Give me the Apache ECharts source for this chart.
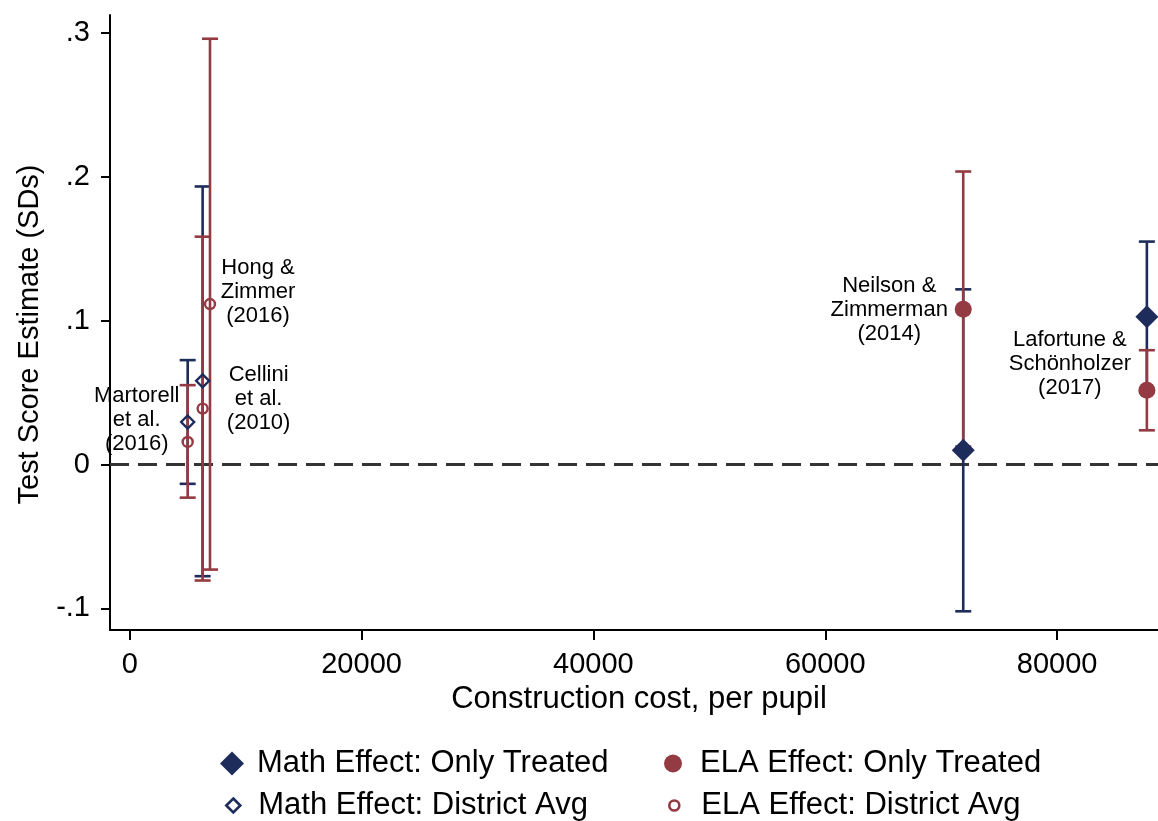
<!DOCTYPE html>
<html>
<head>
<meta charset="utf-8">
<script src="https://cdn.jsdelivr.net/npm/echarts@6/dist/echarts.min.js"></script>
<style>html,body{margin:0;padding:0;background:#fff}#c{width:1158px;height:821px}</style>
</head>
<body>
<div id="c"></div>
<script>
// ---------- data ----------
const xTicks = [0, 20000, 40000, 60000, 80000];
const yTicks = [-0.1, 0, 0.1, 0.2, 0.3];

// Math effect: district average (hollow diamonds) — Martorell, Cellini
const mathAvgCost = [5000, 6290];
const mathAvgEst  = [0.0296, 0.0582];
const mathAvgLo   = [-0.0134, -0.0776];
const mathAvgHi   = [0.0726, 0.1933];

// ELA effect: district average (hollow circles) — Martorell, Cellini, Hong & Zimmer
const elaAvgCost = [5000, 6290, 6926];
const elaAvgEst  = [0.0157, 0.0389, 0.1116];
const elaAvgLo   = [-0.023, -0.0806, -0.073];
const elaAvgHi   = [0.0552, 0.1584, 0.296];

// Math effect: only treated (filled diamonds) — Neilson & Zimmerman, Lafortune & Schönholzer
const mathOnlyCost = [71900, 87740];
const mathOnlyEst  = [0.0099, 0.1027];
const mathOnlyLo   = [-0.102, 0.0504];
const mathOnlyHi   = [0.1218, 0.155];

// ELA effect: only treated (filled circles)
const elaOnlyCost = [71900, 87740];
const elaOnlyEst  = [0.1079, 0.0517];
const elaOnlyLo   = [0.0125, 0.0238];
const elaOnlyHi   = [0.2037, 0.0795];

// study annotations
const studyLabels = {
  martorell: 'Martorell\net al.\n(2016)',
  cellini: 'Cellini\net al.\n(2010)',
  hong: 'Hong &\nZimmer\n(2016)',
  neilson: 'Neilson &\nZimmerman\n(2014)',
  lafortune: 'Lafortune &\nSchönholzer\n(2017)'
};

const seriesNames = ['Math Effect: Only Treated', 'ELA Effect: Only Treated', 'Math Effect: District Avg', 'ELA Effect: District Avg'];

// ---------- styling ----------
const NAVY = '#1d2c5b';
const MAROON = '#933a42';
const FONT = '"Liberation Sans", Arial, Helvetica, sans-serif';

function zip(a, b, c) { return a.map((v, i) => c ? [v, b[i], c[i]] : [v, b[i]]); }

function errorBar(color) {
  return function (params, api) {
    const x = api.value(0), lo = api.value(1), hi = api.value(2);
    const top = api.coord([x, hi]);
    const bot = api.coord([x, lo]);
    const cap = 8;
    const style = { stroke: color, lineWidth: 2.6, fill: null };
    return {
      type: 'group',
      children: [
        { type: 'line', shape: { x1: top[0], y1: top[1], x2: bot[0], y2: bot[1] }, style: style },
        { type: 'line', shape: { x1: top[0] - cap, y1: top[1], x2: top[0] + cap, y2: top[1] }, style: style },
        { type: 'line', shape: { x1: bot[0] - cap, y1: bot[1], x2: bot[0] + cap, y2: bot[1] }, style: style }
      ]
    };
  };
}

function annot(text, dx, dy) {
  return {
    show: true, position: 'inside', formatter: text, offset: [dx, dy],
    align: 'center', verticalAlign: 'middle',
    fontSize: 22, lineHeight: 24, color: '#000', fontFamily: FONT
  };
}

function withLabels(points, labelMap) {
  return points.map((p, i) => labelMap[i] ? { value: p, label: labelMap[i] } : { value: p });
}

const mathAvgPts = withLabels(zip(mathAvgCost, mathAvgEst), { 0: annot(studyLabels.martorell, -51, -2) });
const elaAvgPts = withLabels(zip(elaAvgCost, elaAvgEst), { 1: annot(studyLabels.cellini, 56, -10), 2: annot(studyLabels.hong, 48, -12) });
const mathOnlyPts = withLabels(zip(mathOnlyCost, mathOnlyEst), {});
const elaOnlyPts = withLabels(zip(elaOnlyCost, elaOnlyEst), { 0: annot(studyLabels.neilson, -74, 1), 1: annot(studyLabels.lafortune, -77, -26) });

// legend icons (extra move points give the icon box padding)
const ICON_DIAMOND_FILLED = 'path://M0,0 M32,24 M12,0 L24,12 L12,24 L0,12 Z';
const ICON_DIAMOND_HOLLOW = 'path://M0,0 M32,24 M12,5 L19,12 L12,19 L5,12 Z';
const ICON_CIRCLE_FILLED = 'path://M0,0 M33,24 M2,12 A9,9 0 1 1 20,12 A9,9 0 1 1 2,12 Z';
const ICON_CIRCLE_HOLLOW = 'path://M0,0 M33,24 M6,12 A5,5 0 1 1 16,12 A5,5 0 1 1 6,12 Z';

function legendItem(left, top, name, icon, itemStyle, w) {
  return {
    left: left, top: top, orient: 'horizontal', itemWidth: w, itemHeight: 24,
    selectedMode: false, padding: 0,
    textStyle: { fontSize: 31, color: '#000', fontFamily: FONT },
    data: [{ name: name, icon: icon, itemStyle: itemStyle }]
  };
}

const chart = echarts.init(document.getElementById('c'), null, { renderer: 'canvas' });

const option = {
  backgroundColor: '#fff',
  animation: false,
  textStyle: { fontFamily: FONT },
  grid: { left: 110, right: 0, top: 15, bottom: 191, containLabel: false, outerBoundsMode: 'none' },
  xAxis: {
    type: 'value', min: -1700, max: 88700,
    axisLine: { show: true, onZero: false, lineStyle: { color: '#000', width: 2 } },
    axisTick: { show: true, length: 10, lineStyle: { color: '#000', width: 2 }, customValues: xTicks },
    axisLabel: { customValues: xTicks, fontSize: 29, color: '#000', margin: 20, fontFamily: FONT, formatter: v => String(Math.round(v)) },
    splitLine: { show: false },
    name: 'Construction cost, per pupil', nameLocation: 'middle', nameGap: 50,
    nameTextStyle: { fontSize: 31, color: '#000', fontFamily: FONT, padding: [0, 0, 0, 10] }
  },
  yAxis: {
    type: 'value', min: -0.115, max: 0.3125,
    axisLine: { show: true, onZero: false, lineStyle: { color: '#000', width: 2 } },
    axisTick: { show: true, length: 9, lineStyle: { color: '#000', width: 2 }, customValues: yTicks },
    axisLabel: {
      customValues: yTicks, fontSize: 29, color: '#000', margin: 20, fontFamily: FONT,
      formatter: v => Math.abs(v) < 1e-9 ? '0' : String(+v.toFixed(1)).replace('0.', '.')
    },
    splitLine: { show: false },
    name: 'Test Score Estimate (SDs)', nameLocation: 'middle', nameGap: 66, nameRotate: 90,
    nameTextStyle: { fontSize: 29, color: '#000', fontFamily: FONT, padding: [0, 24, 0, 0] }
  },
  legend: [
    legendItem(220, 748, seriesNames[0], ICON_DIAMOND_FILLED, { color: NAVY, borderWidth: 0 }, 32),
    legendItem(220, 790, seriesNames[2], ICON_DIAMOND_HOLLOW, { color: 'transparent', borderColor: NAVY, borderWidth: 2.6 }, 32),
    legendItem(662, 748, seriesNames[1], ICON_CIRCLE_FILLED, { color: MAROON, borderWidth: 0 }, 33),
    legendItem(662, 790, seriesNames[3], ICON_CIRCLE_HOLLOW, { color: 'transparent', borderColor: MAROON, borderWidth: 2.6 }, 33)
  ],
  series: [
    {
      name: 'zero', type: 'line', data: [], z: 1, silent: true,
      markLine: {
        silent: true, symbol: 'none', z: 1, animation: false,
        label: { show: false },
        lineStyle: { type: [19, 9], width: 3, color: '#333' },
        data: [{ yAxis: 0 }]
      }
    },
    {
      name: 'mathCI', type: 'custom', z: 2, silent: true,
      renderItem: errorBar(NAVY),
      encode: { x: 0, y: [1, 2] },
      data: zip(mathAvgCost, mathAvgLo, mathAvgHi).concat(zip(mathOnlyCost, mathOnlyLo, mathOnlyHi))
    },
    {
      name: 'elaCI', type: 'custom', z: 2, silent: true,
      renderItem: errorBar(MAROON),
      encode: { x: 0, y: [1, 2] },
      data: zip(elaAvgCost, elaAvgLo, elaAvgHi).concat(zip(elaOnlyCost, elaOnlyLo, elaOnlyHi))
    },
    {
      name: seriesNames[2], type: 'scatter', z: 3, symbol: 'diamond', symbolSize: 13,
      itemStyle: { color: 'transparent', borderColor: NAVY, borderWidth: 2.4, opacity: 1 },
      data: mathAvgPts
    },
    {
      name: seriesNames[3], type: 'scatter', z: 3, symbol: 'circle', symbolSize: 10,
      itemStyle: { color: 'transparent', borderColor: MAROON, borderWidth: 2.4, opacity: 1 },
      data: elaAvgPts
    },
    {
      name: seriesNames[0], type: 'scatter', z: 4, symbol: 'diamond', symbolSize: 23,
      itemStyle: { color: NAVY, opacity: 1 },
      data: mathOnlyPts
    },
    {
      name: seriesNames[1], type: 'scatter', z: 4, symbol: 'circle', symbolSize: 17,
      itemStyle: { color: MAROON, opacity: 1 },
      data: elaOnlyPts
    }
  ]
};
chart.setOption(option);
</script>
</body>
</html>
